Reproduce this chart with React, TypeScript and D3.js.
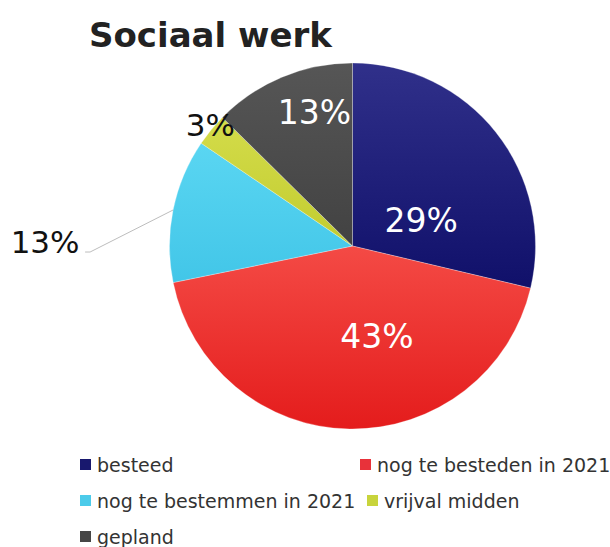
import React from "react";
import * as d3 from "d3";

const categories = ["besteed", "nog te besteden in 2021", "nog te bestemmen in 2021", "vrijval midden", "gepland"];
const values = [28.7, 43.1, 12.7, 2.9, 12.6];
const colorsTop = ["#30308a", "#f44a45", "#5ad6f2", "#d4dc4a", "#565656"];
const colorsBottom = ["#10106a", "#e41c1c", "#42c6e8", "#c2cc30", "#424242"];
const legendColors = ["#18186e", "#e8323a", "#4ccbea", "#c8d43c", "#464646"];
const title = "Sociaal werk";

// label placement: angle shift (deg) from slice mid-angle, radius factor
const labelShift = [18, -16, -10.6, 1, 6.8];
const labelRad = [0.4, 0.51, 1.68, 1.02, 0.76];
const labelFill = ["#fff", "#fff", "#111", "#111", "#fff"];

export default function App() {
  const W = 610, H = 547;
  const cx = 352.5, cy = 246, R = 183;
  const pie = d3.pie<number>().sort(null).value(d => d);
  const arcs = pie(values);
  const arcGen = d3.arc<d3.PieArcDatum<number>>().innerRadius(0).outerRadius(R);
  const total = d3.sum(values);

  const legendItems = [
    { i: 0, x: 80, y: 465 },
    { i: 1, x: 360, y: 465 },
    { i: 2, x: 80, y: 501 },
    { i: 3, x: 367, y: 501 },
    { i: 4, x: 80, y: 537 },
  ];

  return (
    <svg width={W} height={H} style={{ position: "absolute", left: 0, top: 0, background: "#fff" }}>
      <defs>
        {arcs.map((a, i) => (
          <linearGradient key={i} id={`g${i}`} x1={0} y1={0} x2={0} y2={1}>
            <stop offset="0%" stopColor={colorsTop[i]} />
            <stop offset="100%" stopColor={colorsBottom[i]} />
          </linearGradient>
        ))}
      </defs>
      <text x={89} y={47} fontFamily="DejaVu Sans" fontWeight="bold" fontSize={34} fill="#222">{title}</text>
      <g transform={`translate(${cx},${cy})`}>
        {arcs.map((a, i) => (
          <path key={i} d={arcGen(a) || ""} fill={`url(#g${i})`} stroke="#ffffff" strokeOpacity={0.35} strokeWidth={0.8} />
        ))}
        {arcs.map((a, i) => {
          const mid = (a.startAngle + a.endAngle) / 2 + (labelShift[i] * Math.PI) / 180;
          const r = labelRad[i] * R;
          const x = Math.sin(mid) * r;
          const y = -Math.cos(mid) * r;
          const pct = Math.round((values[i] / total) * 100 + 1e-9) + "%";
          if (i === 2) {
            const ex = Math.sin((a.startAngle + a.endAngle) / 2) * R;
            const ey = -Math.cos((a.startAngle + a.endAngle) / 2) * R;
            return (
              <g key={i}>
                <polyline
                  points={`${ex},${ey} ${x + 45},${y + 10} ${x + 40},${y + 10}`}
                  fill="none" stroke="#bdbdbd" strokeWidth={1}
                />
                <text x={x} y={y} textAnchor="middle" dominantBaseline="central" fontFamily="DejaVu Sans" fontSize={31} fill={labelFill[i]}>{pct}</text>
              </g>
            );
          }
          return (
            <text key={i} x={x} y={y} textAnchor="middle" dominantBaseline="central" fontFamily="DejaVu Sans" fontSize={i === 3 ? 31 : 33} fill={labelFill[i]}>{pct}</text>
          );
        })}
      </g>
      {legendItems.map(({ i, x, y }) => (
        <g key={i}>
          <rect x={x} y={y - 6} width={11} height={11} fill={legendColors[i]} />
          <text x={x + 17} y={y} dominantBaseline="central" fontFamily="DejaVu Sans" fontSize={19} fill="#333">{categories[i]}</text>
        </g>
      ))}
    </svg>
  );
}
